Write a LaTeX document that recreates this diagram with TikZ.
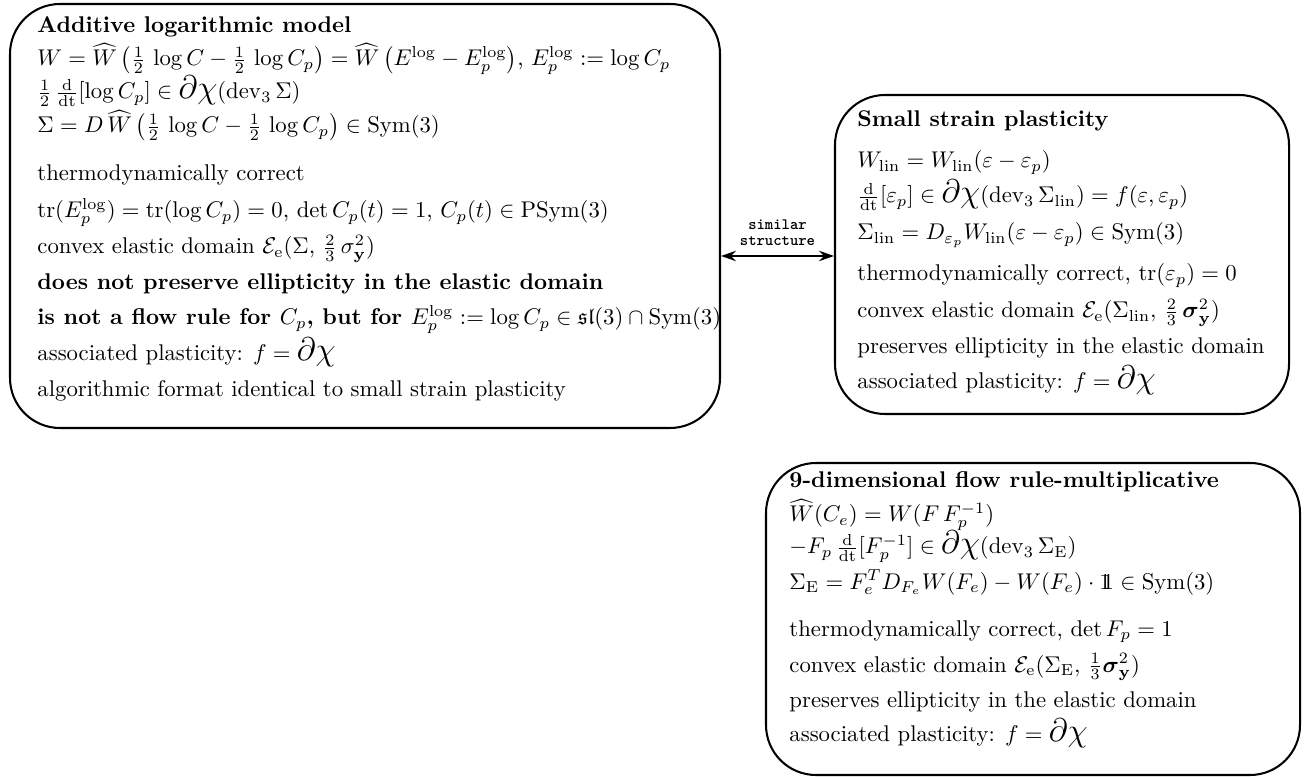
\documentclass[tikz,border=0pt]{standalone}
\usepackage{amsmath,amssymb}
\usetikzlibrary{arrows.meta,fit}
\newcommand{\bigdchi}{\mbox{\Large$\partial\chi$}}
\newcommand{\dd}{\frac{\mathrm d}{\mathrm{dt}}}
\newcommand{\onebb}{\mbox{1\kern-0.36em 1}}
\begin{document}
\begin{tikzpicture}[x=0.44pt,y=-0.44pt,
  box/.style={draw,line width=0.9pt,rounded corners=22pt,inner sep=0pt},
  ln/.style={anchor=base west,inner sep=0pt,font=\normalsize},
  lbl/.style={font=\ttfamily\bfseries\fontsize{7}{7}\selectfont,align=center,inner sep=1pt}]
\useasboundingbox (0,0) rectangle (1308,777);
% boxes
\node[box,fit={(10,4) (720,428)}] (A) {};
\node[box,fit={(835,95) (1289,414)}] (B) {};
\node[box,fit={(766,463) (1300,775)}] (C) {};
% left box text
\node[ln] (a1) at (37,33) {\textbf{Additive logarithmic model}};
\node[ln] (a2) at (37,66) {$W=\widehat{W}\left(\frac12\,\log C-\frac12\,\log C_p\right)=\widehat{W}\left(E^{\log}-E_p^{\log}\right)$, $E_p^{\log}:=\log C_p$};
\node[ln] (a3) at (37,99) {$\frac12\,\dd[\log C_p]\in\bigdchi(\operatorname{dev}_3\Sigma)$};
\node[ln] (a4) at (37,133) {$\Sigma=D\,\widehat{W}\left(\frac12\,\log C-\frac12\,\log C_p\right)\in\operatorname{Sym}(3)$};
\node[ln] (a5) at (37,181) {thermodynamically correct};
\node[ln] (a6) at (37,218) {$\operatorname{tr}(E_p^{\log})=\operatorname{tr}(\log C_p)=0$, $\det C_p(t)=1$, $C_p(t)\in\operatorname{PSym}(3)$};
\node[ln] (a7) at (37,254) {convex elastic domain $\mathcal{E}_{\mathrm e}(\Sigma,\,\frac23\,\sigma_{\mathbf y}^2)$};
\node[ln] (a8) at (37,290) {\textbf{does not preserve ellipticity in the elastic domain}};
\node[ln] (a9) at (37,325) {\textbf{is not a flow rule for $C_p$, but for $E_p^{\log}:=\log C_p\in\mathfrak{sl}(3)\cap\operatorname{Sym}(3)$}};
\node[ln] (a10) at (37,361) {associated plasticity: $f=\bigdchi$};
\node[ln] (a11) at (37,397) {algorithmic format identical to small strain plasticity};
% right box 1
\node[ln] (b1) at (857,127) {\textbf{Small strain plasticity}};
\node[ln] (b2) at (857,168) {$W_{\mathrm{lin}}=W_{\mathrm{lin}}(\varepsilon-\varepsilon_p)$};
\node[ln] (b3) at (857,203) {$\dd[\varepsilon_p]\in\bigdchi(\operatorname{dev}_3\Sigma_{\mathrm{lin}})=f(\varepsilon,\varepsilon_p)$};
\node[ln] (b4) at (857,240) {$\Sigma_{\mathrm{lin}}=D_{\varepsilon_p}W_{\mathrm{lin}}(\varepsilon-\varepsilon_p)\in\operatorname{Sym}(3)$};
\node[ln] (b5) at (857,281) {thermodynamically correct, $\operatorname{tr}(\varepsilon_p)=0$};
\node[ln] (b6) at (857,318) {convex elastic domain $\mathcal{E}_{\mathrm e}(\Sigma_{\mathrm{lin}},\,\frac23\,\boldsymbol{\sigma}_{\mathbf y}^2)$};
\node[ln] (b7) at (857,354) {preserves ellipticity in the elastic domain};
\node[ln] (b8) at (857,389) {associated plasticity: $f=\bigdchi$};
% right box 2
\node[ln] (c1) at (789,488) {\textbf{9-dimensional flow rule-multiplicative}};
\node[ln] (c2) at (789,522) {$\widehat{W}(C_e)=W(F\,F_p^{-1})$};
\node[ln] (c3) at (789,554) {$-F_p\,\dd[F_p^{-1}]\in\bigdchi(\operatorname{dev}_3\Sigma_{\mathrm E})$};
\node[ln] (c4) at (789,589) {$\Sigma_{\mathrm E}=F_e^TD_{F_e}W(F_e)-W(F_e)\cdot\onebb\in\operatorname{Sym}(3)$};
\node[ln] (c5) at (789,636) {thermodynamically correct, $\det F_p=1$};
\node[ln] (c6) at (789,672) {convex elastic domain $\mathcal{E}_{\mathrm e}(\Sigma_{\mathrm E},\,\frac13\boldsymbol{\sigma}_{\mathbf y}^2)$};
\node[ln] (c7) at (789,707) {preserves ellipticity in the elastic domain};
\node[ln] (c8) at (789,741) {associated plasticity: $f=\bigdchi$};
% connector
\coordinate (ay) at (0,256);
\draw[{Stealth[length=6.5pt,width=4.5pt]}-{Stealth[length=6.5pt,width=4.5pt]},line width=1.2pt]
  (A.east |- ay) -- (B.west |- ay) node[midway,above=3pt,lbl] (s) {similar\\structure};
\end{tikzpicture}
\end{document}
